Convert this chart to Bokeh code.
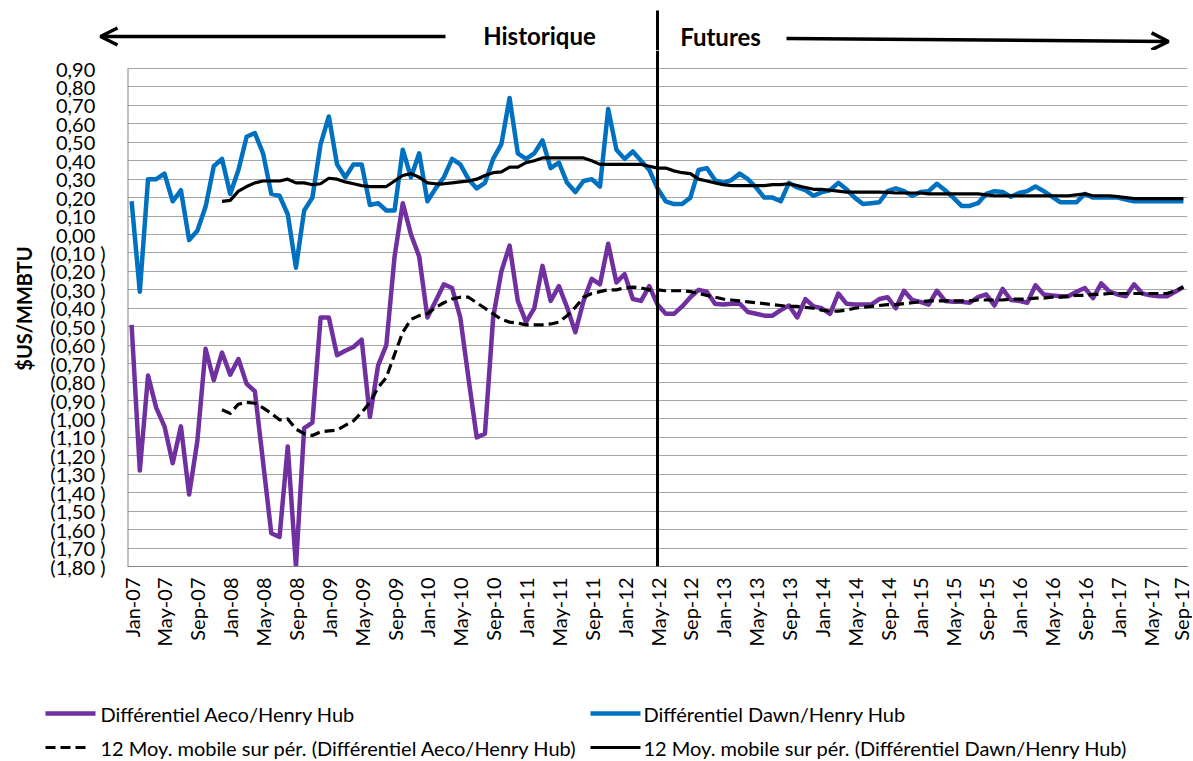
import math
import pandas as pd
from bokeh.plotting import figure
from bokeh.layouts import column
from bokeh.models import Range1d, FixedTicker, Label, Arrow, OpenHead
from bokeh.embed import file_html
from bokeh.resources import INLINE

# ---------------- data ----------------
months = [d.strftime("%b-%y") for d in pd.date_range("2007-01-01", "2017-09-01", freq="MS")]

aeco = [
    -0.49, -1.28, -0.765, -0.94, -1.04, -1.24, -1.04, -1.41, -1.12, -0.62, -0.79, -0.64,
    -0.76, -0.675, -0.81, -0.85, -1.235, -1.62, -1.64, -1.15, -1.80, -1.05, -1.02, -0.45,
    -0.45, -0.655, -0.63, -0.61, -0.57, -0.99, -0.71, -0.60, -0.12, 0.17, 0.00, -0.12,
    -0.45, -0.36, -0.27, -0.29, -0.45, -0.78, -1.10, -1.08, -0.45, -0.20, -0.06, -0.36,
    -0.475, -0.40, -0.17, -0.36, -0.28, -0.395, -0.53, -0.36, -0.24, -0.27, -0.05, -0.26,
    -0.215, -0.35, -0.36, -0.28, -0.38, -0.43, -0.43, -0.39, -0.34, -0.30, -0.31, -0.375,
    -0.38, -0.375, -0.375, -0.42, -0.43, -0.44, -0.44, -0.41, -0.385, -0.45, -0.35, -0.39,
    -0.40, -0.43, -0.32, -0.375, -0.38, -0.38, -0.38, -0.35, -0.34, -0.40, -0.305, -0.355,
    -0.365, -0.38, -0.305, -0.36, -0.365, -0.365, -0.37, -0.34, -0.325, -0.385, -0.295, -0.355,
    -0.36, -0.37, -0.275, -0.325, -0.33, -0.335, -0.335, -0.31, -0.29, -0.345, -0.265, -0.31,
    -0.325, -0.335, -0.27, -0.32, -0.33, -0.335, -0.335, -0.31, -0.285,
]

dawn = [
    0.18, -0.31, 0.30, 0.30, 0.33, 0.18, 0.24, -0.03, 0.02, 0.15, 0.37, 0.41,
    0.22, 0.35, 0.53, 0.55, 0.44, 0.22, 0.21, 0.11, -0.18, 0.13, 0.20, 0.49,
    0.64, 0.38, 0.31, 0.38, 0.38, 0.16, 0.17, 0.13, 0.13, 0.46, 0.31, 0.44,
    0.18, 0.25, 0.31, 0.41, 0.38, 0.30, 0.25, 0.28, 0.41, 0.49, 0.74, 0.44,
    0.41, 0.44, 0.51, 0.36, 0.39, 0.28, 0.23, 0.29, 0.30, 0.26, 0.68, 0.46,
    0.41, 0.45, 0.40, 0.35, 0.25, 0.18, 0.165, 0.165, 0.20, 0.35, 0.36, 0.295,
    0.28, 0.295, 0.33, 0.30, 0.255, 0.20, 0.20, 0.18, 0.28, 0.255, 0.24, 0.21,
    0.23, 0.24, 0.28, 0.245, 0.20, 0.165, 0.17, 0.175, 0.235, 0.25, 0.235, 0.21,
    0.23, 0.235, 0.275, 0.24, 0.20, 0.155, 0.155, 0.17, 0.22, 0.235, 0.23, 0.205,
    0.225, 0.235, 0.26, 0.235, 0.205, 0.175, 0.175, 0.175, 0.22, 0.20, 0.20, 0.20,
    0.20, 0.19, 0.18, 0.18, 0.18, 0.18, 0.18, 0.18, 0.18,
]

# 12-month moving averages (start at Dec-07)
ma_start = 11
aeco_ma = [
    -0.95, -0.97, -0.92, -0.91, -0.915, -0.94, -0.97, -1.005, -1.00, -1.055, -1.08, -1.09,
    -1.07, -1.065, -1.06, -1.035, -1.01, -0.965, -0.91, -0.83, -0.775, -0.65, -0.53, -0.46,
    -0.44, -0.43, -0.395, -0.37, -0.35, -0.34, -0.34, -0.37, -0.40, -0.43, -0.46, -0.475,
    -0.48, -0.49, -0.49, -0.49, -0.485, -0.475, -0.44, -0.395, -0.34, -0.32, -0.31, -0.30,
    -0.30, -0.29, -0.285, -0.29, -0.30, -0.30, -0.305, -0.305, -0.305, -0.31, -0.32, -0.33,
    -0.34, -0.35, -0.355, -0.36, -0.365, -0.37, -0.375, -0.38, -0.385, -0.39, -0.39, -0.395,
    -0.40, -0.41, -0.415, -0.415, -0.41, -0.40, -0.395, -0.39, -0.385, -0.38, -0.38, -0.375,
    -0.37, -0.365, -0.36, -0.36, -0.36, -0.36, -0.36, -0.36, -0.355, -0.355, -0.355, -0.355,
    -0.35, -0.35, -0.35, -0.345, -0.345, -0.34, -0.34, -0.335, -0.33, -0.33, -0.325, -0.325,
    -0.32, -0.32, -0.32, -0.32, -0.32, -0.32, -0.32, -0.32, -0.305, -0.285,
]
dawn_ma = [
    0.18, 0.185, 0.235, 0.26, 0.28, 0.29, 0.29, 0.29, 0.30, 0.28, 0.28, 0.27,
    0.275, 0.305, 0.30, 0.285, 0.275, 0.265, 0.26, 0.26, 0.26, 0.29, 0.32, 0.33,
    0.31, 0.28, 0.275, 0.275, 0.28, 0.285, 0.29, 0.30, 0.32, 0.335, 0.34, 0.365,
    0.365, 0.39, 0.40, 0.415, 0.415, 0.415, 0.415, 0.415, 0.415, 0.40, 0.38, 0.38,
    0.38, 0.38, 0.38, 0.38, 0.37, 0.36, 0.36, 0.345, 0.335, 0.33, 0.30, 0.29,
    0.28, 0.27, 0.265, 0.265, 0.265, 0.265, 0.265, 0.27, 0.27, 0.275, 0.265, 0.255,
    0.245, 0.245, 0.24, 0.235, 0.23, 0.23, 0.23, 0.23, 0.23, 0.228, 0.225, 0.225,
    0.225, 0.225, 0.22, 0.22, 0.22, 0.22, 0.22, 0.22, 0.22, 0.215, 0.21, 0.21,
    0.21, 0.21, 0.21, 0.21, 0.21, 0.21, 0.21, 0.21, 0.215, 0.22, 0.21, 0.21,
    0.21, 0.205, 0.20, 0.195, 0.195, 0.195, 0.195, 0.195, 0.195, 0.195,
]

y_ticks = [0.9, 0.8, 0.7, 0.6, 0.5, 0.4, 0.3, 0.2, 0.1, 0.0, -0.1, -0.2, -0.3, -0.4,
           -0.5, -0.6, -0.7, -0.8, -0.9, -1.0, -1.1, -1.2, -1.3, -1.4, -1.5, -1.6, -1.7, -1.8]
y_tick_labels = ["0,90", "0,80", "0,70", "0,60", "0,50", "0,40", "0,30", "0,20", "0,10", "0,00",
                 "(0,10 )", "(0,20 )", "(0,30 )", "(0,40 )", "(0,50 )", "(0,60 )", "(0,70 )",
                 "(0,80 )", "(0,90 )", "(1,00 )", "(1,10 )", "(1,20 )", "(1,30 )", "(1,40 )",
                 "(1,50 )", "(1,60 )", "(1,70 )", "(1,80 )"]

series_names = ["Différentiel Aeco/Henry Hub", "Différentiel Dawn/Henry Hub",
                "12 Moy. mobile sur pér. (Différentiel Aeco/Henry Hub)",
                "12 Moy. mobile sur pér. (Différentiel Dawn/Henry Hub)"]
header_texts = ["Historique", "Futures"]
divider_month = "May-12"

# ---------------- style / layout ----------------
FONT = "Lato"
PURPLE = "#7030A0"
BLUE = "#0070C0"
GRID = "#A6A6A6"
AXIS = "#868686"
DASH = "10 5"
LW_DATA = 4.5
LW_MA = 3.2

W = 1192
TOTAL_H = 760
LEFT, RIGHT = 127, 5          # frame borders of main plot
HEAD_H = 50                   # header strip height
PLOT_TOP_PAD = 18             # px between strip bottom and 0.90 gridline
FRAME_H = 498                 # px from 0.90 to -1.80
BOTTOM = 86                   # x tick label area
MAIN_H = PLOT_TOP_PAD + FRAME_H + BOTTOM
LEG_H = TOTAL_H - HEAD_H - MAIN_H
LEG_TOP = HEAD_H + MAIN_H     # page y where legend strip begins

y_min, y_max = min(y_ticks), max(y_ticks)
px_per_unit = FRAME_H / (y_max - y_min)
x = list(range(len(months)))
ma_x = x[ma_start:]
x0, x1 = -0.5, len(months) - 0.5
px_per_month = (W - LEFT - RIGHT) / (x1 - x0)


def strip(height, xr, yr):
    f = figure(width=W, height=height, output_backend="svg", toolbar_location=None,
               x_axis_type=None, y_axis_type=None, x_range=xr, y_range=yr,
               min_border_left=0, min_border_right=0, min_border_top=0, min_border_bottom=0,
               frame_align=False)
    f.outline_line_color = None
    f.xgrid.visible = False
    f.ygrid.visible = False
    return f


# ---------------- header strip ----------------
head = strip(HEAD_H, Range1d(x0 - LEFT / px_per_month, x1 + RIGHT / px_per_month),
             Range1d(0, HEAD_H))
div_x = months.index(divider_month)
head.add_layout(Arrow(end=None, x_start=div_x, y_start=HEAD_H - 10, x_end=div_x, y_end=0,
                      line_color="black", line_width=3))
head.add_layout(Arrow(end=OpenHead(size=17, line_width=3.5, line_color="black"),
                      x_start=445, y_start=14, x_end=100, y_end=14,
                      start_units="screen", end_units="screen", line_color="black", line_width=3.5))
head.add_layout(Arrow(end=OpenHead(size=17, line_width=3.5, line_color="black"),
                      x_start=786, y_start=12, x_end=1168, y_end=9,
                      start_units="screen", end_units="screen", line_color="black", line_width=3.5))
for txt, tx, ty in ((header_texts[0], 539, 15), (header_texts[1], 720, 14)):
    head.add_layout(Label(x=tx, y=ty, x_units="screen", y_units="screen", text=txt,
                          text_font=FONT, text_font_size="24px", text_font_style="bold",
                          text_align="center", text_baseline="middle", text_color="black"))

# ---------------- main plot ----------------
fig = figure(width=W, height=MAIN_H,
             x_range=Range1d(x0, x1),
             y_range=Range1d(y_min, y_max + PLOT_TOP_PAD / px_per_unit),
             output_backend="svg", toolbar_location=None,
             min_border_left=LEFT, min_border_right=RIGHT, min_border_top=0,
             min_border_bottom=BOTTOM, frame_align=False)
fig.outline_line_color = None

fig.line(x, aeco, line_color=PURPLE, line_width=LW_DATA, line_join="round")
fig.line(x, dawn, line_color=BLUE, line_width=LW_DATA, line_join="round")
fig.line(ma_x, aeco_ma, line_color="black", line_width=LW_MA, line_dash=DASH, line_join="round")
fig.line(ma_x, dawn_ma, line_color="black", line_width=LW_MA, line_join="round")

tick_idx = x[::4]
fig.xaxis.ticker = FixedTicker(ticks=tick_idx)
fig.xaxis.major_label_overrides = {i: months[i] for i in tick_idx}
fig.xaxis.major_label_orientation = math.pi / 2
fig.xaxis.major_label_standoff = 11

fig.yaxis.ticker = FixedTicker(ticks=y_ticks)
fig.yaxis.major_label_overrides = {t: (l if l.endswith(")") else l + "\u00a0\u00a0")
                                   for t, l in zip(y_ticks, y_tick_labels)}
fig.yaxis.major_label_standoff = 22
fig.yaxis.axis_label = "$US/MMBTU"
fig.yaxis.axis_label_text_font = FONT
fig.yaxis.axis_label_text_font_size = "20px"
fig.yaxis.axis_label_text_font_style = "bold"
fig.yaxis.axis_label_text_color = "black"
fig.yaxis.axis_label_standoff = 11

for ax in (fig.xaxis, fig.yaxis):
    ax.major_label_text_font = FONT
    ax.major_label_text_font_size = "20px"
    ax.major_label_text_color = "black"
    ax.major_tick_line_color = None
    ax.minor_tick_line_color = None
    ax.major_tick_out = 0
    ax.major_tick_in = 0
    ax.minor_tick_out = 0
    ax.minor_tick_in = 0
fig.xaxis.axis_line_color = AXIS
fig.yaxis.axis_line_color = None
# left axis line only over the value range
fig.segment(x0=[x0], y0=[y_min], x1=[x0], y1=[y_max], line_color=AXIS, line_width=2)

fig.xgrid.visible = False
fig.ygrid.ticker = FixedTicker(ticks=y_ticks)
fig.ygrid.grid_line_color = GRID
fig.ygrid.grid_line_width = 1

fig.add_layout(Arrow(end=None, x_start=div_x, y_start=y_max + PLOT_TOP_PAD / px_per_unit,
                     x_end=div_x, y_end=y_min, line_color="black", line_width=3))

# ---------------- legend strip ----------------
leg = strip(LEG_H, Range1d(0, W), Range1d(LEG_H, 0))
row1, row2 = 713 - LEG_TOP, 747 - LEG_TOP
entries = [
    (series_names[0], PURPLE, LW_DATA, "solid", 45, 95, 100, row1),
    (series_names[1], BLUE, LW_DATA, "solid", 590, 640, 643, row1),
    (series_names[2], "black", LW_MA, DASH, 45, 88, 100, row2),
    (series_names[3], "black", LW_MA, "solid", 590, 640, 643, row2),
]
for name, col, lw, dash, xs, xe, xt, yy in entries:
    leg.add_layout(Arrow(end=None, x_start=xs, y_start=yy, x_end=xe, y_end=yy,
                         line_color=col, line_width=lw, line_dash=dash))
    leg.add_layout(Label(x=xt, y=yy, text=name, text_font=FONT, text_font_size="20px",
                         text_baseline="middle", text_align="left", text_color="black"))

p = column(head, fig, leg, spacing=0)
open("out.html", "w").write(file_html(p, INLINE))
